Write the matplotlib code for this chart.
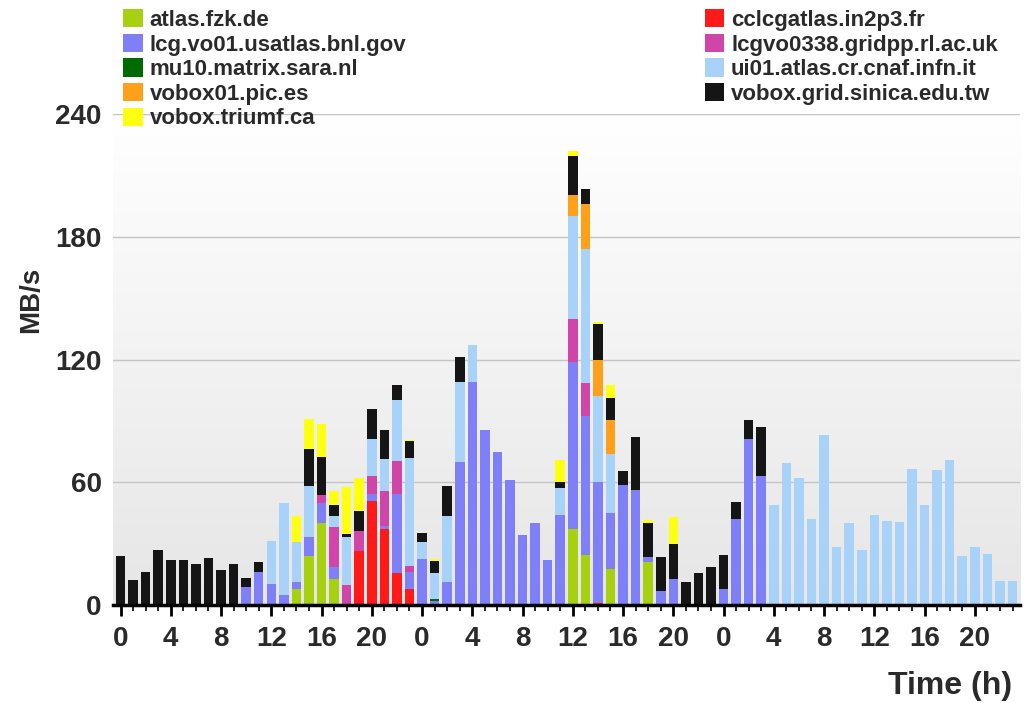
import numpy as np
import matplotlib
matplotlib.use('Agg')
import matplotlib.pyplot as plt

plt.rcParams['font.family'] = ['Liberation Sans', 'DejaVu Sans']

hours = np.arange(72)

# MB/s per site, one value per hour (3 days)
fzk = np.zeros(72)
in2p3 = np.zeros(72)
bnl = np.zeros(72)
gridpp = np.zeros(72)
sara = np.zeros(72)
cnaf = np.zeros(72)
pic = np.zeros(72)
sinica = np.zeros(72)
triumf = np.zeros(72)

sinica[:10] = [24, 12, 16, 27, 22, 22, 20, 23, 17, 20]

fzk_vals = {14: 8, 15: 24, 16: 40, 17: 12.5, 36: 37, 37: 24.5, 39: 17.5, 42: 21}
in2p3_vals = {19: 26.5, 20: 51, 21: 37, 22: 15.5, 23: 8, 38: 1}
bnl_vals = {10: 9, 11: 16, 12: 10.5, 13: 5, 14: 3, 15: 9, 16: 10, 17: 6, 20: 3.5,
            21: 1.5, 22: 39, 23: 8, 24: 22.5, 25: 2, 26: 11, 27: 70, 28: 109,
            29: 85.5, 30: 75, 31: 61, 32: 34, 33: 40, 34: 22, 35: 44, 36: 82,
            37: 68, 38: 59, 39: 27.5, 40: 58.5, 41: 56, 42: 2.5, 43: 7, 44: 12.5,
            48: 8, 49: 42, 50: 81, 51: 63}
gridpp_vals = {16: 4, 17: 19.5, 18: 10, 19: 9.5, 20: 8.5, 21: 17, 22: 16, 23: 3,
               36: 21, 37: 16}
sara_vals = {25: 0.7}
cnaf_vals = {12: 21, 13: 45, 14: 20, 15: 25, 17: 5.5, 18: 23, 20: 18, 21: 16,
             22: 29.5, 23: 53, 24: 8.5, 25: 13, 26: 32.5, 27: 39, 28: 18, 35: 13,
             36: 50, 37: 65.5, 38: 42, 39: 29, 52: 49, 53: 69.5, 54: 62, 55: 42,
             56: 83, 57: 28.5, 58: 40, 59: 27, 60: 44, 61: 41, 62: 40.5, 63: 66.5,
             64: 49, 65: 66, 66: 71, 67: 24, 68: 28.5, 69: 25, 70: 11.5, 71: 11.5}
pic_vals = {36: 10.5, 37: 22, 38: 18, 39: 16.5}
sinica_vals = {10: 4, 11: 5, 15: 18.5, 16: 18.5, 17: 5.5, 18: 1.5, 19: 10, 20: 15,
               21: 14, 22: 7.5, 23: 8, 24: 4, 25: 6, 26: 14.5, 27: 12, 35: 3,
               36: 19, 37: 7.5, 38: 17.5, 39: 10.5, 40: 7, 41: 26, 42: 16.5,
               43: 16.5, 44: 17.5, 45: 11, 46: 15.5, 47: 18.5, 48: 16.5, 49: 8.5,
               50: 9.5, 51: 24}
triumf_vals = {14: 12.5, 15: 14.5, 16: 16, 17: 6.5, 18: 23, 19: 16, 23: 0.8,
               25: 1, 35: 11, 36: 2.5, 38: 1, 39: 6.5, 42: 1.5, 44: 13}

for arr, vals in [(fzk, fzk_vals), (in2p3, in2p3_vals), (bnl, bnl_vals),
                  (gridpp, gridpp_vals), (sara, sara_vals), (cnaf, cnaf_vals),
                  (pic, pic_vals), (sinica, sinica_vals), (triumf, triumf_vals)]:
    for k, v in vals.items():
        arr[k] = v

series = [
    ('atlas.fzk.de', fzk, '#a6d010'),
    ('cclcgatlas.in2p3.fr', in2p3, '#ff1a1a'),
    ('lcg.vo01.usatlas.bnl.gov', bnl, '#7f7ff8'),
    ('lcgvo0338.gridpp.rl.ac.uk', gridpp, '#d046a8'),
    ('mu10.matrix.sara.nl', sara, '#006b00'),
    ('ui01.atlas.cr.cnaf.infn.it', cnaf, '#a8d2f8'),
    ('vobox01.pic.es', pic, '#ffa01a'),
    ('vobox.grid.sinica.edu.tw', sinica, '#151515'),
    ('vobox.triumf.ca', triumf, '#ffff10'),
]

fig = plt.figure(figsize=(10.29, 7.03), dpi=100)
ax = fig.add_axes([0.1098, 0.1394, 0.8815, 0.6984])

# background gradient: white at top, light grey at the bottom
grad = np.linspace(0, 1, 256).reshape(-1, 1)
ax.imshow(grad, extent=[-0.6, 71.6, 0, 240], aspect='auto',
          cmap=matplotlib.colors.LinearSegmentedColormap.from_list('g', ['#e6e6e6', '#ffffff']),
          origin='lower', zorder=0)

bottom = np.zeros(72)
handles = []
for name, vals, col in series:
    h = ax.bar(hours, vals, width=0.76, bottom=bottom, color=col, label=name,
               zorder=3, linewidth=0)
    handles.append(h)
    bottom = bottom + vals

ax.set_xlim(-0.6, 71.6)
ax.set_ylim(0, 240)
ax.set_yticks([0, 60, 120, 180, 240])
ax.yaxis.grid(True, color='#c4c4c4', linewidth=1, zorder=1)
ax.set_axisbelow(False)

ax.set_xticks(np.arange(0, 72, 4))
ax.set_xticklabels([str(h % 24) for h in range(0, 72, 4)])
ax.set_xticks(np.arange(72), minor=True)
ax.tick_params(axis='x', which='major', length=8, width=2, color='black',
               labelsize=20, pad=7)
ax.tick_params(axis='x', which='minor', length=4, width=1.2, color='black')
ax.tick_params(axis='y', length=0, labelsize=20, pad=8)
for lab in ax.get_xticklabels() + ax.get_yticklabels():
    lab.set_fontweight('bold')
    lab.set_color('#2a2a2a')

for s in ['top', 'right', 'left']:
    ax.spines[s].set_visible(False)
ax.spines['bottom'].set_linewidth(2.5)
ax.spines['bottom'].set_zorder(5)

fig.text(0.03, 0.573, 'MB/s', rotation=90, fontsize=20, fontweight='bold',
         color='#2a2a2a', ha='center', va='center')
fig.text(0.984, 0.003, 'Time (h)', fontsize=23, fontweight='bold',
         color='#2a2a2a', ha='right', va='bottom')

# legend filled row by row: two separate columns
left = [handles[i] for i in (0, 2, 4, 6, 8)]
right = [handles[i] for i in (1, 3, 5, 7)]
for hs, xa in [(left, 0.107), (right, 0.672)]:
    leg = fig.legend(handles=hs, loc='upper left', bbox_to_anchor=(xa, 1.006),
                     frameon=False, fontsize=16, handlelength=0.88,
                     handleheight=0.88, handletextpad=0.3, labelspacing=0.13,
                     borderaxespad=0.2)
    for t in leg.get_texts():
        t.set_color('#2a2a2a')
        t.set_fontweight('bold')

fig.savefig('out.png', dpi=100)
